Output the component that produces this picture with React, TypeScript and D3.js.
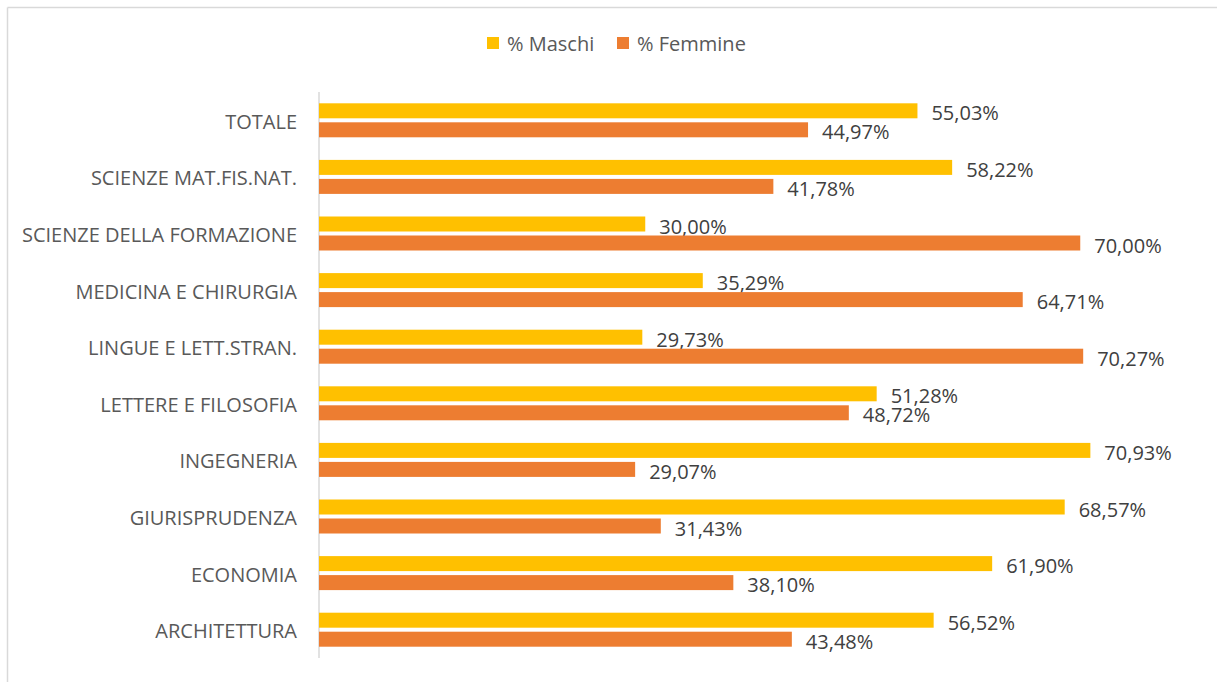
import React from "react";
import * as d3 from "d3";

const categories = [
  "TOTALE",
  "SCIENZE MAT.FIS.NAT.",
  "SCIENZE DELLA FORMAZIONE",
  "MEDICINA E CHIRURGIA",
  "LINGUE E LETT.STRAN.",
  "LETTERE E FILOSOFIA",
  "INGEGNERIA",
  "GIURISPRUDENZA",
  "ECONOMIA",
  "ARCHITETTURA",
];
const maschi = [55.03, 58.22, 30.0, 35.29, 29.73, 51.28, 70.93, 68.57, 61.9, 56.52];
const femmine = [44.97, 41.78, 70.0, 64.71, 70.27, 48.72, 29.07, 31.43, 38.1, 43.48];
const seriesNames = ["% Maschi", "% Femmine"];
const colors = ["#FFC000", "#ED7D31"];

const W = 1217;
const H = 682;
const FONT = "'Open Sans', sans-serif";

export default function App() {
  const x = d3.scaleLinear().domain([0, 80]).range([319, 1189]);
  const y = d3.scaleBand<string>().domain(categories).range([92, 658]);
  const fmt = (v: number) => v.toFixed(2).replace(".", ",") + "%";
  const barH = 15;
  const series = [maschi, femmine];

  return (
    <svg
      width={W}
      height={H}
      style={{ position: "absolute", left: 0, top: 0, background: "#fff" }}
    >
      <line x1={7.5} x2={W} y1={7.5} y2={7.5} stroke="#d9d9d9" strokeWidth={1.5} />
      <line x1={7.5} x2={7.5} y1={7.5} y2={H} stroke="#d9d9d9" strokeWidth={1.5} />

      {/* legend */}
      {seriesNames.map((n, i) => {
        const lx = [487, 617][i];
        return (
          <g key={n}>
            <rect x={lx} y={37} width={12} height={12} fill={colors[i]} />
            <text
              x={lx + 20}
              y={43}
              dominantBaseline="central"
              fontFamily={FONT}
              fontSize={20}
              fill="#595959"
            >
              {n}
            </text>
          </g>
        );
      })}

      {/* axis line */}
      <line x1={x(0)} x2={x(0)} y1={92} y2={658} stroke="#d9d9d9" strokeWidth={1.5} />

      {categories.map((c, ci) => {
        const cy = (y(c) as number) + y.bandwidth() / 2;
        return (
          <g key={c}>
            <text
              x={297}
              y={cy + 1}
              textAnchor="end"
              dominantBaseline="central"
              fontFamily={FONT}
              fontSize={20}
              fill="#595959"
            >
              {c}
            </text>
            {series.map((vals, si) => {
              const by = si === 0 ? cy - 17 : cy + 2;
              const v = vals[ci];
              return (
                <g key={si}>
                  <rect
                    x={x(0)}
                    y={by}
                    width={x(v) - x(0)}
                    height={barH}
                    fill={colors[si]}
                  />
                  <text
                    x={x(v) + 14}
                    y={by + barH / 2 + 2}
                    dominantBaseline="central"
                    fontFamily={FONT}
                    fontSize={20}
                    fill="#404040"
                  >
                    {fmt(v)}
                  </text>
                </g>
              );
            })}
          </g>
        );
      })}
    </svg>
  );
}
